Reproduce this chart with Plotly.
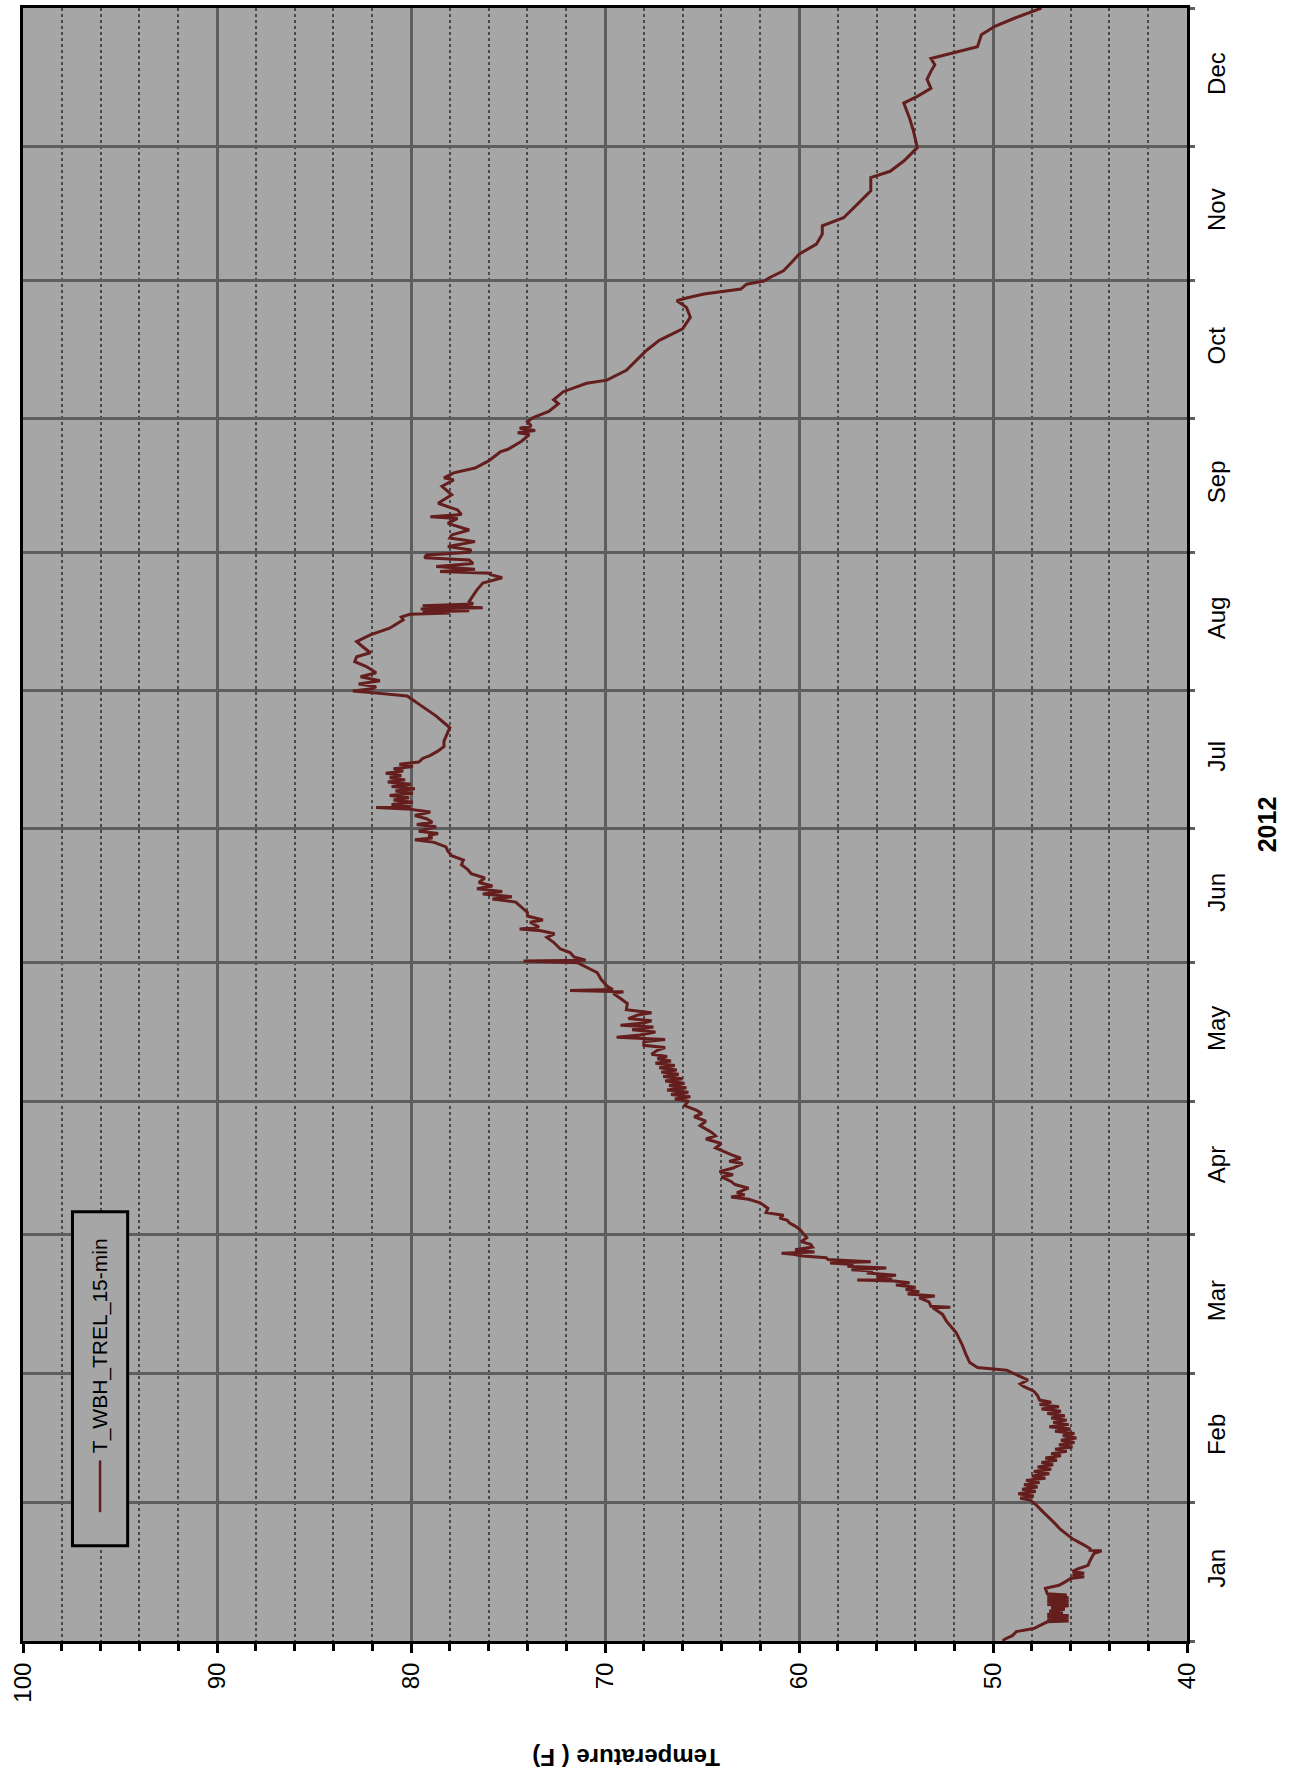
import pandas as pd
import plotly.graph_objects as go

# ---------------- data ----------------
# day of year 2012 (0 = Jan 1 00:00) and temperature (F)
day_of_year = [
    0.0, 0.4, 1.2, 2.1, 2.8, 3.6, 4.3,
    4.5, 4.8, 5.1, 5.4, 5.7, 6.0, 6.3, 6.7, 7.1, 7.5, 7.9, 8.2, 8.5, 8.8, 9.1, 9.4, 9.7, 10.0, 10.3,
    10.6, 11.8, 12.5, 13.2, 14.0, 14.4, 14.8, 15.2, 15.6, 16.2, 16.95, 18.0, 18.8, 19.6, 20.2, 20.3,
    20.7, 21.5, 22.9, 24.0, 25.1, 26.3, 27.4, 28.9, 30.4, 31.6,
    32.0, 32.5, 33.0, 33.5, 34.0, 34.5, 35.0, 35.5, 36.0, 36.5, 37.0, 37.5, 38.0, 38.5, 39.0, 39.5,
    40.0, 40.5, 41.0, 41.5, 42.0, 42.5, 43.0, 43.5, 44.0, 44.5, 45.0, 45.5, 46.0, 46.5, 47.0, 47.5,
    48.0, 48.5, 49.0, 49.5, 50.0, 50.5, 51.0, 51.5, 52.0, 52.5, 53.0, 53.5, 54.0, 55.0, 56.0, 57.0,
    57.6, 58.5, 59.1, 60.0, 60.7, 61.3, 62.4, 64.3, 66.5, 69.1, 71.7, 73.2, 74.7, 74.8, 75.0,
    76.0, 76.9, 77.3, 77.8, 78.3, 78.8, 79.3, 79.8, 80.3, 80.7, 80.9, 81.1, 81.6, 82.0, 82.5, 82.9,
    83.2, 83.6, 84.0, 84.4, 84.7, 85.0, 85.5, 85.9, 86.3, 86.7, 86.9, 87.2, 87.7, 88.3, 88.9, 89.5,
    90.4, 91.5, 92.2, 93.0, 93.7, 94.3, 94.8, 95.4, 96.0, 97.0, 98.2,
    99.0, 99.5, 100.0, 100.5, 101.5, 102.3, 103.0, 104.0, 104.5, 105.2, 106.0, 107.0, 107.5, 108.2,
    109.0, 110.5, 111.5, 112.5, 113.2, 114.0, 115.5, 116.5, 117.5, 118.2, 119.0, 120.0, 121.0,
    121.5, 122.0, 122.5, 123.0, 123.5, 124.0, 124.5, 125.0, 125.5, 126.0, 126.5, 127.0, 127.5,
    128.0, 128.5, 129.0, 129.5, 130.0, 130.5, 131.0, 131.5, 132.4,
    133.0, 133.5, 134.3, 134.8, 135.3, 135.8, 136.5, 137.0, 137.6, 138.0, 138.5, 139.0, 139.5,
    140.3, 140.8, 141.5, 142.9, 144.0, 145.1, 145.5, 145.8, 146.0, 146.8, 148.3, 149.8, 150.9,
    152.0, 152.4, 152.6, 153.3, 154.3, 155.1, 156.6, 157.7, 158.5, 159.2, 159.6, 160.0, 161.1,
    161.6, 162.5, 163.3, 164.5, 165.6,
    166.3, 166.8, 167.4, 168.0, 168.6, 169.2, 170.0, 171.0, 172.0, 173.0, 174.0, 175.0, 176.0,
    177.0, 178.0, 179.0, 179.6, 180.0, 180.5, 181.0, 181.5, 182.0, 182.5, 183.0, 183.5, 184.3,
    185.0, 185.8, 186.5, 186.8, 187.0, 187.5, 188.0, 188.5, 189.0, 189.5, 190.0, 190.5, 191.0,
    191.5, 192.0, 192.5, 193.0, 193.5, 194.0, 194.5, 195.0, 195.5, 196.0, 196.5, 197.0, 197.8,
    198.5, 199.5, 200.5, 201.7,
    204.7, 205.8, 207.3, 208.8, 210.3, 211.8, 212.5, 212.9, 213.4, 213.9, 214.5, 215.2, 216.1,
    217.0, 218.4, 219.5, 220.6, 221.5, 222.9, 224.0, 225.5, 227.0, 228.9, 229.5, 230.1, 230.4,
    230.6, 230.9, 231.3, 231.6, 232.0, 232.4, 233.0, 235.6, 237.1, 238.3, 239.0, 239.3, 239.7,
    240.2, 240.8, 241.5, 242.3, 242.8, 243.4, 244.0, 244.5, 245.3, 246.4, 247.2, 247.9, 249.0,
    250.5, 251.6, 252.0, 252.5, 253.5, 255.0, 256.9, 258.8, 260.2, 260.7, 261.8, 262.9, 264.5,
    266.5, 267.1, 268.9, 270.4, 270.8, 271.3, 271.8, 272.3, 273.3, 274.2, 275.6, 277.3, 278.2,
    280.0, 281.9, 282.6, 284.8, 287.8, 289.3, 291.5, 294.1, 296.7, 298.9, 300.4, 301.0, 301.9,
    302.4, 303.0, 304.1, 304.8, 305.6, 307.1, 308.9, 310.8, 313.1, 315.3, 317.2, 319.0, 322.0,
    325.0, 328.0, 329.4, 331.7, 334.7, 338.4, 341.3, 344.7, 346.2, 348.0, 350.0, 351.8, 353.3,
    354.7, 355.5, 357.3, 360.0, 361.9, 363.7, 365.6, 366.0,
]
temp_f = [
    49.5, 49.4, 49.0, 48.8, 47.9, 47.5, 47.2,
    46.1, 47.2, 46.1, 47.2, 46.1, 47.2, 46.4, 47.1, 46.3, 47.0, 46.1, 47.2, 46.1, 47.2, 46.1, 47.2, 46.1, 47.2, 46.2,
    47.2, 47.3, 46.6, 46.3, 46.0, 45.3, 45.9, 45.3, 45.9, 45.6, 45.1, 45.0, 44.9, 44.8, 44.4, 45.0,
    45.0, 45.3, 45.9, 46.2, 46.55, 46.8, 47.07, 47.41, 47.75, 48.09,
    48.6, 47.9, 48.7, 47.8, 48.5, 47.7, 48.4, 47.6, 48.3, 47.3, 48.0, 47.1, 47.9, 47.0, 47.7, 46.9,
    47.5, 46.7, 47.3, 46.5, 47.0, 46.2, 46.8, 45.9, 46.6, 45.8, 46.5, 45.7, 46.4, 45.8, 46.8, 46.0,
    47.1, 46.1, 46.9, 46.2, 47.0, 46.3, 47.2, 46.5, 47.5, 46.6, 47.6, 47.0, 47.6, 47.7, 47.9, 48.4,
    48.6, 48.2, 48.5, 49.0, 49.3, 50.8, 51.2, 51.4, 51.6, 51.9, 52.4, 52.6, 53.1, 52.2, 53.2,
    53.3, 53.8, 53.0, 54.4, 53.8, 54.5, 54.0, 55.0, 54.3, 55.1, 57.0, 55.2, 56.0, 55.0, 56.5, 56.2,
    57.3, 55.5, 57.5, 57.2, 58.4, 56.3, 58.5, 58.6, 59.8, 60.3, 60.9, 59.2, 60.2, 59.3, 59.4, 59.9,
    59.6, 59.8, 59.95, 60.2, 60.5, 60.6, 61.0, 60.8, 61.7, 61.6, 62.0,
    62.6, 63.5, 62.8, 63.2, 62.6, 63.3, 63.5, 64.0, 63.4, 64.1, 63.4, 62.9, 63.6, 63.0,
    63.5, 64.3, 64.0, 64.8, 64.3, 64.5, 65.1, 64.8, 65.4, 65.0, 65.3, 65.9, 65.7,
    66.4, 65.6, 66.6, 65.7, 66.8, 65.8, 66.7, 65.9, 66.9, 66.0, 67.0, 66.2, 67.1,
    66.3, 67.2, 66.4, 67.4, 66.6, 67.3, 66.8, 67.6, 67.3,
    66.9, 68.0, 68.0, 66.9, 69.4, 68.2, 67.4, 68.6, 67.5, 69.2, 68.0, 67.6, 68.8,
    68.3, 67.6, 68.9, 68.85, 69.2, 69.57, 69.05, 71.8, 69.6, 69.9, 70.2, 70.4, 70.9,
    71.4, 74.2, 71.0, 71.6, 71.8, 72.3, 72.65, 73.0, 72.6, 73.3, 74.4, 73.4, 73.86,
    73.2, 74.0, 74.0, 74.3, 74.6,
    75.8, 74.8, 76.3, 75.3, 76.6, 75.8, 76.5, 76.2, 76.9, 77.1, 77.4, 77.3, 77.9,
    78.1, 78.2, 78.8, 79.8, 78.9, 79.1, 78.6, 79.6, 79.2, 78.7, 79.7, 78.9, 79.2,
    79.8, 79.0, 80.2, 81.8, 80.0, 81.0, 79.9, 80.9, 80.1, 81.1, 79.9, 80.8, 79.8,
    81.0, 80.0, 81.2, 80.3, 81.1, 80.5, 81.3, 80.4, 80.9, 79.9, 80.6, 79.6, 79.4,
    79.0, 78.6, 78.3, 78.3,
    78.0, 78.3, 78.7, 79.2, 79.7, 80.2, 81.9, 83.0, 82.0, 81.8, 82.7, 81.6, 82.6,
    81.8, 82.3, 82.9, 82.8, 82.1, 82.5, 82.8, 82.1, 81.1, 80.4, 80.5, 80.05, 78.0,
    79.4, 77.0, 79.5, 76.3, 79.4, 76.8, 77.0, 76.6, 76.3, 75.3, 75.9, 75.9, 78.5,
    76.7, 78.7, 76.8, 77.0, 79.3, 79.2, 77.0, 76.9, 78.1, 76.7, 78.0, 77.9, 77.0,
    78.1, 77.6, 79.0, 77.4, 77.6, 78.6, 77.9, 78.4, 77.8, 78.3, 77.8, 76.7, 76.0,
    75.4, 75.0, 74.3, 73.9, 74.5, 73.6, 74.4, 73.8, 74.0, 73.7, 72.9, 72.4, 72.65,
    72.15, 70.95, 69.9, 68.9, 68.2, 67.85, 67.2, 66.0, 65.6, 65.8, 66.3, 65.8, 64.9,
    63.9, 63.0, 62.7, 61.8, 61.5, 60.8, 60.4, 60.0, 59.1, 58.8, 58.8, 57.7, 57.0,
    56.3, 56.3, 55.3, 54.6, 53.9, 54.1, 54.3, 54.6, 53.9, 53.2, 53.4, 53.2, 53.0,
    53.2, 52.5, 50.8, 50.6, 49.9, 48.9, 47.7, 47.5,
]
series_name = "T_WBH_TREL_15-min"
temp_ticks = [40, 50, 60, 70, 80, 90, 100]
x_title = "Temperature ( F)"
y_title = "2012"

timestamps = pd.Timestamp("2012-01-01") + pd.to_timedelta(day_of_year, unit="D")

FONT = "Liberation Sans, Arial, sans-serif"
GRID = "#5e5e5e"
BG = "#a6a6a6"
LINE = "#641e1e"

fig = go.Figure()
fig.add_trace(go.Scatter(
    x=temp_f, y=timestamps, mode="lines", name=series_name,
    line=dict(color=LINE, width=3), showlegend=False,
))

fig.update_layout(
    width=1291, height=1786,
    margin=dict(l=23, r=104, t=5, b=145),
    paper_bgcolor="white", plot_bgcolor=BG,
    font=dict(family=FONT, size=24, color="black"),
    xaxis=dict(
        range=[100, 40], tickvals=temp_ticks, tickangle=-90,
        ticks="outside", ticklen=9, tickwidth=3, tickcolor="black",
        showline=True, linewidth=3, linecolor="black", mirror=True,
        showgrid=True, gridcolor=GRID, gridwidth=3, zeroline=False,
        tickfont=dict(size=24),
        minor=dict(dtick=2, tick0=40, ticks="outside", ticklen=7, tickwidth=3,
                   tickcolor="black", showgrid=True, gridcolor="#4a4a4a",
                   gridwidth=1.5, griddash="dot"),
    ),
    yaxis=dict(
        type="date", range=["2012-01-01", "2013-01-01"], side="right",
        dtick="M1", tick0="2012-01-01", tickformat="%b", ticklabelmode="period",
        tickangle=-90, tickfont=dict(size=24), ticklabelstandoff=1,
        ticks="outside", ticklen=5, tickwidth=3, tickcolor=GRID,
        showline=True, linewidth=3, linecolor="black", mirror=True,
        showgrid=True, gridcolor=GRID, gridwidth=3, zeroline=False,
        title=dict(text="<b>" + y_title + "</b>", font=dict(size=25), standoff=30),
    ),
)

# x-axis title (upside down, as in the rotated original)
fig.add_annotation(
    xref="paper", yref="paper", x=0.518, y=-0.071, text="<b>" + x_title + "</b>",
    showarrow=False, textangle=180, font=dict(size=24), xanchor="center", yanchor="middle",
)

# legend drawn as a rotated box
fig.add_shape(type="rect", xref="paper", yref="paper", x0=0.0425, x1=0.0899,
              y0=0.0583, y1=0.2628, line=dict(color="black", width=3), fillcolor=BG,
              layer="above")
fig.add_shape(type="line", xref="paper", yref="paper", x0=0.0662, x1=0.0662,
              y0=0.0789, y1=0.1106, line=dict(color=LINE, width=2.5), layer="above")
fig.add_annotation(
    xref="paper", yref="paper", x=0.0662, y=0.1806, text=series_name, showarrow=False,
    textangle=-90, font=dict(size=21), xanchor="center", yanchor="middle",
)

fig.write_html("out.html", config={"displayModeBar": False},
               post_script="document.body.style.margin='0';")
